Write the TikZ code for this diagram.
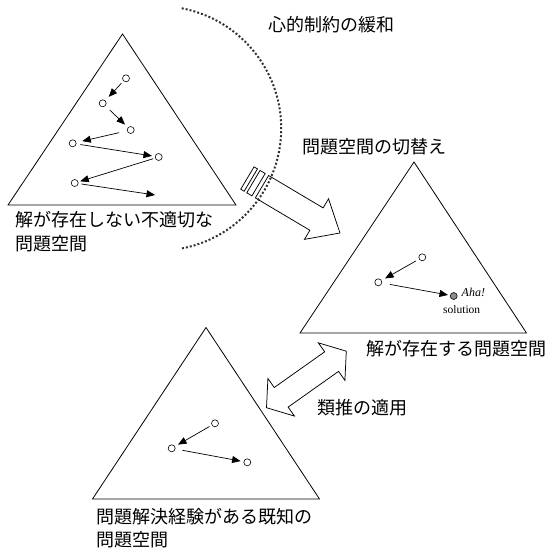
\documentclass[tikz,border=0pt]{standalone}
\usepackage{fontspec}
\setmainfont{Liberation Serif}
\newfontfamily\jp{Noto Sans CJK JP}
\usetikzlibrary{arrows.meta}
\begin{document}
\begin{tikzpicture}[x=1pt,y=-1pt,
  tri/.style={draw, line width=0.8pt, line join=miter},
  pt/.style={circle, draw, line width=0.6pt, minimum size=7pt, inner sep=0pt},
  solpt/.style={pt, fill=black!45},
  mv/.style={-{Triangle[length=8.5pt,width=7pt]}, line width=0.7pt},
  lab/.style={anchor=west, inner sep=0pt, font=\jp\fontsize{18}{20}\selectfont},
  blk/.style={draw, line width=0.75pt, fill=white, line join=miter},
  dots/.style={draw=black!80, line width=2pt, dash pattern=on 2pt off 2pt},
]
\useasboundingbox (0,0) rectangle (549,550);

% triangles (problem spaces)
\draw[tri] (122.5,34) -- (236,205) -- (8,205) -- cycle;
\draw[tri] (414,162) -- (526.5,333) -- (300,333) -- cycle;
\draw[tri] (206,327.5) -- (319.5,499) -- (92.5,499) -- cycle;

% space 1: wandering search
\node[pt] (a1) at (126,78.3) {};
\node[pt] (a2) at (102.7,103.3) {};
\node[pt] (a3) at (130.7,130) {};
\node[pt] (a4) at (72.7,143.3) {};
\node[pt] (a5) at (158.7,157) {};
\node[pt] (a6) at (74.7,183) {};
\coordinate (a7) at (155,195);
\draw[mv, shorten <=3pt, shorten >=5pt] (a1) -- (a2);
\draw[mv, shorten <=6pt, shorten >=4pt] (a2) -- (a3);
\draw[mv, shorten <=8pt, shorten >=6pt] (a3) -- (a4);
\draw[mv, shorten <=4pt, shorten >=3pt] (a4) -- (a5);
\draw[mv, shorten <=2pt, shorten >=2pt] (a5) -- (a6);
\draw[mv, shorten <=3pt] (a6) -- (a7);

% space 2: solution
\node[pt] (b1) at (422.3,257.3) {};
\node[pt] (b2) at (378.3,282.3) {};
\node[solpt] (sol) at (453.7,296) {};
\draw[mv, shorten <=3.5pt, shorten >=4pt] (b1) -- (b2);
\draw[mv, shorten <=8pt, shorten >=2pt] (b2) -- (sol);
\node[anchor=west, inner sep=0pt, font=\itshape\fontsize{12}{14}\selectfont] (aha) at (461.5,292.5) {Aha!};
\node[inner sep=0pt, font=\fontsize{11.5}{14}\selectfont] (soltxt) at (461.7,309.5) {solution};

% space 3: known problem
\node[pt] (c1) at (215,423.3) {};
\node[pt] (c2) at (171.7,448.3) {};
\node[pt] (c3) at (247.3,462.3) {};
\draw[mv, shorten <=2.5pt, shorten >=3.5pt] (c1) -- (c2);
\draw[mv, shorten <=7pt, shorten >=3pt] (c2) -- (c3);

% striped block arrow (switching problem space)
\begin{scope}[shift={(262,186.7)}, rotate=-30.7]
  \draw[blk] (0,-13) -- (63.4,-13) -- (63.4,-23.6) -- (90.7,0) -- (63.4,23.6) -- (63.4,13) -- (0,13) -- cycle;
  \draw[blk] (-17,-13) -- (-13,-13) -- (-13,13) -- (-17,13) -- cycle;
  \draw[blk] (-10,-13) -- (-4,-13) -- (-4,13) -- (-10,13) -- cycle;
\end{scope}

% double block arrow (analogy)
\begin{scope}[shift={(266.5,407.7)}, rotate=35.3]
  \draw[blk] (0,0) -- (18,-23) -- (18,-12) -- (79.8,-12) -- (79.8,-23) -- (97.8,0)
    -- (79.8,23) -- (79.8,12) -- (18,12) -- (18,23) -- cycle;
\end{scope}

% dotted arc (relaxing mental constraint)
\draw[dots] (181.7,8.3) arc[start angle=79.3, end angle=-80, radius=122.2pt];

% labels
\node[lab] (t1a) at (15,220) {解が存在しない不適切な};
\node[lab] (t1b) at (15,244) {問題空間};
\node[lab] (t2) at (268.3,25) {心的制約の緩和};
\node[lab] (t3) at (302.7,147) {問題空間の切替え};
\node[lab] (t4) at (366.7,349) {解が存在する問題空間};
\node[lab] (t5) at (317.3,408) {類推の適用};
\node[lab] (t6a) at (96.7,516.7) {問題解決経験がある既知の};
\node[lab] (t6b) at (96.7,539.3) {問題空間};
\end{tikzpicture}
\end{document}
